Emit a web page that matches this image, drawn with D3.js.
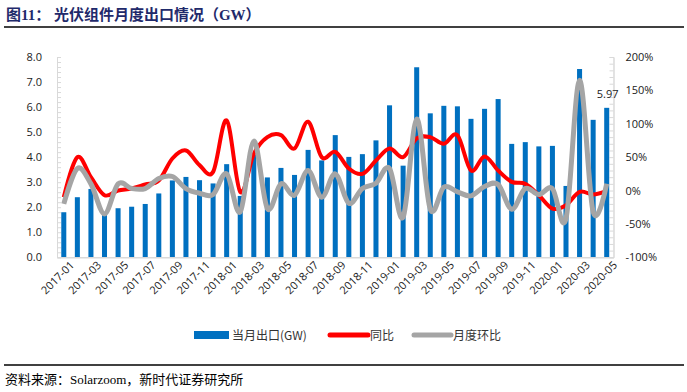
<!DOCTYPE html>
<html lang="zh">
<head>
<meta charset="UTF-8" />
<title>光伏组件月度出口情况</title>
<script src="https://d3js.org/d3.v7.min.js"></script>
<style>
  body { margin: 0; background: #fff; }
  svg { display: block; }
  .tick text { font-family: "Open Sans", "Noto Sans CJK SC", sans-serif; font-size: 11px; fill: #222; }
</style>
</head>
<body>
<svg width="687" height="392"></svg>
<script>
// monthly data 2017-01 .. 2020-05
const months = [];
for (let y = 2017; y <= 2020; y++) {
  for (let m = 1; m <= 12; m++) {
    if (y === 2020 && m > 5) break;
    months.push(`${y}-${String(m).padStart(2, "0")}`);
  }
}
const exportGW = [1.80, 2.40, 2.73, 1.70, 1.96, 2.02, 2.13, 2.55, 3.07, 3.21, 3.08, 2.95,
                  3.72, 2.45, 4.10, 3.19, 3.57, 3.29, 4.29, 3.87, 4.88, 4.01, 4.12, 4.67,
                  6.07, 3.66, 7.59, 5.75, 6.05, 6.03, 5.53, 5.93, 6.32, 4.53, 4.60, 4.43,
                  4.45, 2.85, 7.52, 5.49, 5.97];
const yoy = [-10, 50, 20, -7, 0, 3, 9, 15, 48, 60, 38, 28,
             105, -2, 55, 80, 83, 63, 103, 50, 58, 33, 25, 45,
             63, 50, 78, 80, 70, 83, 30, 51, 30, 13, 10, -7,
             -27, -22, -2, -6, -1];
const mom = [-20, 33, 10, -35, 10, 3, 3, 18, 21, 3, -4, -6,
             25, -32, 74, -27, 10, -7, 30, -10, 25, -19, 3, 11,
             33, -40, 107, -28, 5, -2, -8, 6, 9, -28, 3, -6,
             3, -42, 165, -32, 10];
const leftTicks = [0, 1, 2, 3, 4, 5, 6, 7, 8];
const rightTicks = [-100, -50, 0, 50, 100, 150, 200];

const svg = d3.select("svg");
const m = { left: 57, right: 613.5, top: 57, bottom: 257.3 };

// title + rules
svg.append("text").attr("x", 6).attr("y", 20)
  .style("font-family", "'Liberation Serif', 'Noto Sans CJK SC', serif")
  .style("font-weight", "bold").style("font-size", "15px").attr("fill", "#1f2a6b")
  .text("图11：  光伏组件月度出口情况（GW）");
svg.append("line").attr("x1", 4).attr("x2", 684).attr("y1", 27).attr("y2", 27)
  .attr("stroke", "#000").attr("stroke-width", 1.3);
svg.append("line").attr("x1", 4).attr("x2", 684).attr("y1", 365).attr("y2", 365)
  .attr("stroke", "#000").attr("stroke-width", 1.3);
svg.append("text").attr("x", 5).attr("y", 384)
  .style("font-family", "'Liberation Serif', 'Noto Sans CJK SC', serif")
  .style("font-size", "13px").attr("fill", "#000")
  .text("资料来源：Solarzoom，新时代证券研究所");

const x = d3.scaleBand().domain(months).range([m.left, m.right]).paddingInner(0.63).paddingOuter(0.315);
const xc = d => x(d) + x.bandwidth() / 2;
const yL = d3.scaleLinear().domain([0, 8]).range([m.bottom, m.top]);
const yR = d3.scaleLinear().domain([-100, 200]).range([m.bottom, m.top]);

// axes
const axisL = svg.append("g").attr("transform", `translate(${m.left},0)`)
  .call(d3.axisLeft(yL).tickValues(d3.range(0, 8.01, 0.2)).tickSize(-4).tickFormat(""));
axisL.append("g").call(d3.axisLeft(yL).tickValues(leftTicks).tickSize(0).tickPadding(15).tickFormat(d3.format(".1f")));
axisL.selectAll(".domain").attr("stroke", "#d9d9d9");
axisL.selectAll("line").attr("stroke", "#d9d9d9");

const axisR = svg.append("g").attr("transform", `translate(${m.right},0)`)
  .call(d3.axisRight(yR).tickValues(d3.range(-100, 200.1, 10)).tickSize(-4).tickFormat(""));
axisR.append("g").call(d3.axisRight(yR).tickValues(rightTicks).tickSize(0).tickPadding(12).tickFormat(d => d + "%"));
axisR.selectAll(".domain").attr("stroke", "#d9d9d9");
axisR.selectAll("line").attr("stroke", "#d9d9d9");

// bars
svg.append("g").selectAll("rect").data(exportGW).join("rect")
  .attr("x", (d, i) => x(months[i]))
  .attr("width", x.bandwidth())
  .attr("y", d => yL(d))
  .attr("height", d => m.bottom - yL(d))
  .attr("fill", "#0070c0");

const axisB = svg.append("g").attr("transform", `translate(0,${m.bottom})`)
  .call(d3.axisBottom(x).tickValues(months.filter((d, i) => i % 2 === 0)).tickSize(0));
axisB.select(".domain").attr("stroke", "#d9d9d9").attr("stroke-width", 1.5);
axisB.selectAll(".tick text")
  .attr("text-anchor", "end")
  .attr("dx", "0.3em").attr("dy", "0.6em")
  .attr("transform", "translate(2,4) rotate(-45)");

// lines
const lineR = d3.line().x((d, i) => xc(months[i])).y(d => yR(d)).curve(d3.curveCardinal.tension(0));
svg.append("path").datum(yoy).attr("d", lineR)
  .attr("fill", "none").attr("stroke", "#ff0000").attr("stroke-width", 4).attr("stroke-linejoin", "round");
svg.append("path").datum(mom).attr("d", lineR)
  .attr("fill", "none").attr("stroke", "#a5a5a5").attr("stroke-width", 5).attr("stroke-linejoin", "round");

// data label
const last = months.length - 1;
svg.append("text").attr("x", xc(months[last]) + 1).attr("y", yL(exportGW[last]) - 10)
  .attr("text-anchor", "middle")
  .style("font-family", "'Open Sans', sans-serif").style("font-size", "11px").attr("fill", "#222")
  .text(exportGW[last].toFixed(2));

// legend
const legend = svg.append("g").style("font-family", "'Noto Sans CJK SC', sans-serif").style("font-size", "12px");
legend.append("rect").attr("x", 194).attr("y", 331).attr("width", 35).attr("height", 8).attr("fill", "#0070c0");
legend.append("text").attr("x", 232).attr("y", 339.5).attr("fill", "#333").text("当月出口(GW)");
legend.append("line").attr("x1", 330).attr("x2", 368).attr("y1", 335).attr("y2", 335)
  .attr("stroke", "#ff0000").attr("stroke-width", 5).attr("stroke-linecap", "round");
legend.append("text").attr("x", 370).attr("y", 339.5).attr("fill", "#333").text("同比");
legend.append("line").attr("x1", 414).attr("x2", 451).attr("y1", 335).attr("y2", 335)
  .attr("stroke", "#a5a5a5").attr("stroke-width", 5).attr("stroke-linecap", "round");
legend.append("text").attr("x", 453).attr("y", 339.5).attr("fill", "#333").text("月度环比");
</script>
</body>
</html>
